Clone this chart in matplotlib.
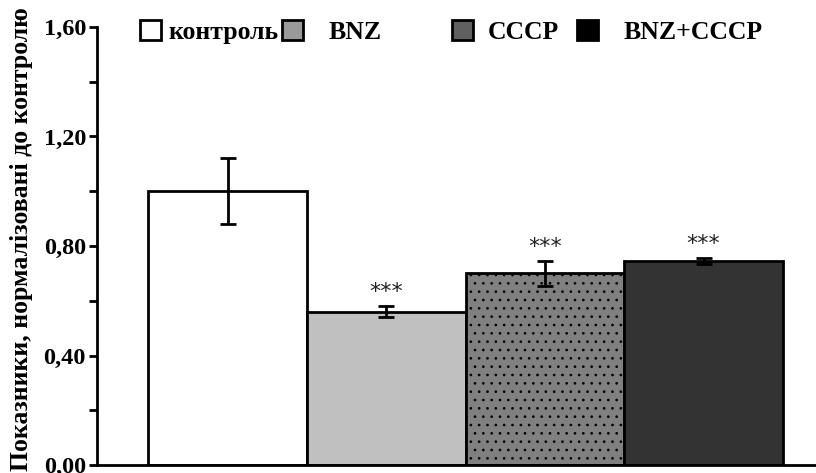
import numpy as np
import matplotlib.pyplot as plt
from matplotlib.patches import Patch

groups = ["контроль", "BNZ", "CCCP", "BNZ+CCCP"]
means = [1.00, 0.56, 0.70, 0.745]
errors = [0.12, 0.02, 0.045, 0.012]
stars = ["", "***", "***", "***"]
ytick_vals = [0.0, 0.4, 0.8, 1.2, 1.6]
ytick_labels = ["0,00", "0,40", "0,80", "1,20", "1,60"]

bar_colors = ["white", "#c0c0c0", "#808080", "#333333"]
bar_hatches = [None, None, "..", None]
legend_colors = ["white", "#9a9a9a", "#606060", "black"]

plt.rcParams["font.family"] = ["Liberation Serif", "DejaVu Serif"]
plt.rcParams["hatch.linewidth"] = 0.7

fig = plt.figure(figsize=(8.16, 4.73), dpi=100)
ax = fig.add_axes([97 / 816, 8 / 473, 1 - 97 / 816, 438 / 473])

x = np.arange(len(groups))
bars = ax.bar(x, means, width=1.0, color=bar_colors, edgecolor="black",
              linewidth=2, zorder=2)
for b, h in zip(bars, bar_hatches):
    if h:
        b.set_hatch(h)

ax.errorbar(x, means, yerr=errors, fmt="none", ecolor="black",
            elinewidth=2, capsize=6, capthick=2, zorder=3)

for xi, m, e, s in zip(x, means, errors, stars):
    if s:
        ax.annotate(s, (xi, m + e), xytext=(0, 3), textcoords="offset points",
                    ha="center", va="bottom", fontsize=16, color="#222222",
                    family="DejaVu Sans")

ax.set_xlim(-0.823, 3.709)
ax.set_ylim(0, 1.6)
ax.set_yticks(ytick_vals)
ax.set_yticklabels(ytick_labels, fontsize=17.5, fontweight="bold")
ax.set_yticks([0.2, 0.6, 1.0, 1.4], minor=True)
ax.tick_params(axis="y", which="both", direction="out", length=6, width=2, pad=2)
ax.tick_params(axis="x", bottom=False, labelbottom=False)
for side in ["top", "right"]:
    ax.spines[side].set_visible(False)
for side in ["left", "bottom"]:
    ax.spines[side].set_linewidth(2)
ax.spines["left"].set_bounds(0, 1.6)

fig.text(22 / 816, 2 / 473, "Показники, нормалізовані до контролю",
         rotation=90, ha="center", va="bottom", fontsize=18.5, fontweight="bold")

# legend items placed one by one to follow the original spacing
leg_x = [140, 282, 452, 577]
leg_pad = [0.3, 1.0, 0.6, 1.0]
for name, c, px, pad in zip(groups, legend_colors, leg_x, leg_pad):
    handle = Patch(facecolor=c, edgecolor="black", linewidth=2)
    fig.legend([handle], [name], loc="upper left",
               bbox_to_anchor=(px / 816, 1 - 20 / 473),
               frameon=False, borderpad=0, borderaxespad=0,
               handlelength=0.8, handleheight=0.8,
               handletextpad=pad,
               prop={"size": 18.5, "weight": "bold"})

fig.savefig("out.png", dpi=100)
